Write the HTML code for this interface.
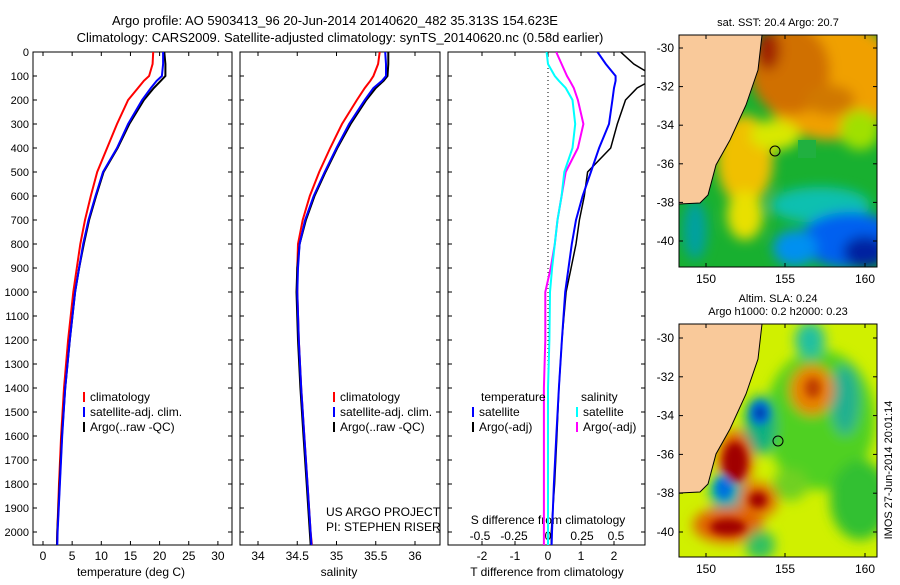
<!DOCTYPE html>
<html><head><meta charset="utf-8"><style>
body{margin:0;background:#fff;width:900px;height:580px;overflow:hidden}
svg{font-family:"Liberation Sans",sans-serif;font-size:12px}
</style></head><body>
<svg id="c" width="900" height="580" xmlns="http://www.w3.org/2000/svg">
<defs>
<filter id="bl" x="-50%" y="-50%" width="200%" height="200%"><feGaussianBlur stdDeviation="6"/></filter>
<filter id="bl2" x="-50%" y="-50%" width="200%" height="200%"><feGaussianBlur stdDeviation="4"/></filter>
<clipPath id="cp1"><rect x="33" y="52" width="199" height="493"/></clipPath>
<clipPath id="cp2"><rect x="240" y="52" width="200" height="493"/></clipPath>
<clipPath id="cp3"><rect x="448" y="52" width="197" height="493"/></clipPath>
<clipPath id="cm1"><rect x="679" y="35" width="198" height="232"/></clipPath>
<clipPath id="cm2"><rect x="679" y="324" width="198" height="233"/></clipPath>
</defs>
<text x="335" y="25" text-anchor="middle" font-size="13">Argo profile: AO 5903413_96 20-Jun-2014 20140620_482 35.313S 154.623E</text>
<text x="340" y="42" text-anchor="middle" font-size="13">Climatology: CARS2009. Satellite-adjusted climatology: synTS_20140620.nc (0.58d earlier)</text>

<g clip-path="url(#cm1)">
<rect x="679" y="35" width="198" height="232" fill="#18b030"/>
<g filter="url(#bl)">
<ellipse cx="830" cy="80" rx="70" ry="60" fill="#f0a000"/>
<ellipse cx="790" cy="70" rx="40" ry="45" fill="#d07000"/>
<ellipse cx="768" cy="50" rx="12" ry="20" fill="#a02000"/>
<ellipse cx="830" cy="100" rx="25" ry="15" fill="#d07800"/>
<ellipse cx="745" cy="160" rx="28" ry="45" fill="#f0c000"/>
<ellipse cx="775" cy="135" rx="25" ry="15" fill="#d8e800"/>
<ellipse cx="860" cy="130" rx="20" ry="20" fill="#a0e000"/>
<ellipse cx="745" cy="215" rx="18" ry="25" fill="#e8e000"/>
<ellipse cx="820" cy="205" rx="50" ry="18" fill="#10c0b0"/>
<ellipse cx="850" cy="240" rx="50" ry="28" fill="#0060f0"/>
<ellipse cx="865" cy="252" rx="22" ry="16" fill="#0020a0"/>
<ellipse cx="795" cy="248" rx="22" ry="18" fill="#0090f0"/>
<ellipse cx="695" cy="230" rx="12" ry="30" fill="#00a0a0"/>
</g>
<rect x="798" y="140" width="18" height="18" fill="#20b040"/>
<polygon points="679,35 762,35 758,70 746,105 730,140 716,165 708,195 700,203 679,204" fill="#f9c99a" stroke="#000" stroke-width="1"/>
<circle cx="775" cy="151" r="5" fill="none" stroke="#000"/>
</g>
<rect x="679" y="35" width="198" height="232" fill="none" stroke="#000"/>
<text x="778" y="26" text-anchor="middle" font-size="11">sat. SST: 20.4  Argo: 20.7</text>

<g clip-path="url(#cm2)">
<rect x="679" y="324" width="198" height="233" fill="#d0f000"/>
<g filter="url(#bl)">
<ellipse cx="820" cy="420" rx="55" ry="70" fill="#50d020"/>
<ellipse cx="860" cy="500" rx="30" ry="40" fill="#30c030"/>
<ellipse cx="810" cy="340" rx="15" ry="18" fill="#20c0a0"/>
<ellipse cx="845" cy="400" rx="14" ry="35" fill="#20b090"/>
<ellipse cx="760" cy="425" rx="16" ry="30" fill="#10b080"/>
<ellipse cx="812" cy="390" rx="22" ry="25" fill="#e88000"/>
<ellipse cx="790" cy="485" rx="18" ry="16" fill="#70d020"/>
<ellipse cx="735" cy="460" rx="18" ry="30" fill="#e06000"/>
<ellipse cx="726" cy="492" rx="16" ry="20" fill="#00b0b0"/>
<ellipse cx="758" cy="500" rx="20" ry="18" fill="#e07000"/>
<ellipse cx="728" cy="525" rx="35" ry="18" fill="#e06000"/>
<ellipse cx="760" cy="545" rx="15" ry="15" fill="#30c060"/>
</g>
<g filter="url(#bl2)">
<ellipse cx="735" cy="462" rx="12" ry="20" fill="#a00000"/>
<ellipse cx="760" cy="413" rx="10" ry="12" fill="#0070e0"/>
<ellipse cx="760" cy="413" rx="5" ry="6" fill="#0030a0"/>
<ellipse cx="724" cy="488" rx="8" ry="11" fill="#0070e0"/>
<ellipse cx="758" cy="500" rx="9" ry="8" fill="#a00000"/>
<ellipse cx="728" cy="527" rx="18" ry="8" fill="#a00000"/>
<ellipse cx="813" cy="388" rx="8" ry="10" fill="#c04000"/>
</g>
<polygon points="679,324 762,324 758,359 746,394 730,429 716,454 708,484 700,492 679,493" fill="#f9c99a" stroke="#000" stroke-width="1"/>
<circle cx="778" cy="441" r="5" fill="none" stroke="#000"/>
</g>
<rect x="679" y="324" width="198" height="233" fill="none" stroke="#000"/>
<text x="778" y="302" text-anchor="middle" font-size="11">Altim. SLA: 0.24</text>
<text x="778" y="315" text-anchor="middle" font-size="11">Argo h1000: 0.2 h2000: 0.23</text>
<text transform="translate(892,470) rotate(-90)" text-anchor="middle" font-size="11">IMOS 27-Jun-2014 20:01:14</text>
<g id="g"></g>
</svg>
<script>
const depthTicks=[0,100,200,300,400,500,600,700,800,900,1000,1100,1200,1300,1400,1500,1600,1700,1800,1900,2000];
const depths=[0,50,100,120,150,200,300,400,500,600,700,800,900,1000,1200,1400,1600,1800,2000,2100];
const tClim=[18.9,18.8,18.2,17.3,16.3,14.6,12.7,11.0,9.3,8.2,7.2,6.4,5.8,5.2,4.3,3.6,3.1,2.75,2.45,2.35];
const tSat=[20.6,20.6,20.4,19.5,18.5,17.0,14.6,12.7,10.3,9.0,7.8,6.9,6.2,5.5,4.6,3.8,3.3,2.9,2.5,2.4];
const tArgo=[20.8,21.0,21.0,20.2,19.0,17.3,14.8,12.8,10.4,9.1,7.9,7.0,6.2,5.5,4.6,3.8,3.25,2.85,2.45,2.35];
const sClim=[35.55,35.53,35.47,35.43,35.36,35.26,35.07,34.92,34.78,34.66,34.57,34.51,34.5,34.5,34.52,34.55,34.59,34.63,34.67,34.7];
const sSat=[35.62,35.63,35.63,35.58,35.47,35.36,35.16,35.0,34.85,34.71,34.6,34.53,34.51,34.5,34.52,34.55,34.59,34.63,34.67,34.69];
const sArgo=[35.66,35.66,35.65,35.6,35.5,35.38,35.18,35.01,34.86,34.72,34.61,34.53,34.5,34.49,34.51,34.54,34.58,34.62,34.66,34.68];
const dtSat=[1.5,1.75,2.05,2.05,2.0,1.95,1.85,1.55,1.3,1.05,0.85,0.72,0.62,0.52,0.42,0.33,0.25,0.18,0.12,0.1];
const dtArgo=[2.2,2.6,3.2,3.1,2.7,2.35,2.1,1.9,1.2,1.1,0.95,0.85,0.7,0.55,0.42,0.33,0.27,0.2,0.1,0.1];
const dsSat=[-0.01,0.0,0.05,0.08,0.13,0.18,0.2,0.18,0.12,0.1,0.07,0.05,0.03,0.015,0.01,0.0,0.0,0.0,0.0,0.0];
const dsArgo=[0.06,0.1,0.14,0.16,0.19,0.22,0.26,0.22,0.13,0.1,0.07,0.05,0.02,-0.02,-0.02,-0.03,-0.03,-0.03,-0.03,-0.03];
const tTicks=[0,5,10,15,20,25,30];
const sTicks=[34,34.5,35,35.5,36];
const dtTicks=[-2,-1,0,1,2];
const dsTicks=[-0.5,-0.25,0,0.25,0.5];
const dsTickLabels=["-0.5","-0.25","0","0.25","0.5"];

const NS="http://www.w3.org/2000/svg";
const G=document.getElementById('g');
function mk(tag,attrs,parent){const e=document.createElementNS(NS,tag);for(const k in attrs)e.setAttribute(k,attrs[k]);(parent||G).appendChild(e);return e;}
const TOP=52,BOT=545;
const yD=d=>TOP+0.24*d;
const xT=t=>43+5.83*t;
const xS=s=>258+78.5*(s-34);
const xDT=v=>548+33*v;
const xDS=v=>548+136*v;

function panel(x,w,name){const r=mk('rect',{x:x,y:TOP,width:w,height:BOT-TOP,fill:'none',stroke:'#000'});

}
panel(33,199,'temperature-panel');panel(240,200,'salinity-panel');panel(448,197,'difference-panel');

depthTicks.forEach(d=>{const t=mk('text',{x:29,y:yD(d)+4,'text-anchor':'end','font-size':'11'});t.textContent=d;


[33,240,448].forEach(x=>{mk('line',{x1:x,x2:x+4,y1:yD(d),y2:yD(d),stroke:'#000'});});
[232,440,645].forEach(x=>{mk('line',{x1:x-4,x2:x,y1:yD(d),y2:yD(d),stroke:'#000'});});
});

function xticks(vals,labels,fx,y,pre){vals.forEach((v,i)=>{const x=fx(v);
mk('line',{x1:x,x2:x,y1:BOT,y2:BOT-4,stroke:'#000'});mk('line',{x1:x,x2:x,y1:TOP,y2:TOP+4,stroke:'#000'});
const t=mk('text',{x:x,y:y,'text-anchor':'middle','font-size':'12'});t.textContent=labels[i];

});}
xticks(tTicks,tTicks,xT,560,'temperature');
xticks(sTicks,sTicks,xS,560,'salinity');
xticks(dtTicks,dtTicks,xDT,560,'t-difference');
dsTicks.forEach((v,i)=>{const t=mk('text',{x:xDS(v),y:540,'text-anchor':'middle','font-size':'12'});t.textContent=dsTickLabels[i];

});

function lbl(x,y,s,name,anchor,size){const t=mk('text',{x:x,y:y,'text-anchor':anchor||'start','font-size':size||'12'});t.textContent=s;

return t;}
lbl(131,576,'temperature (deg C)','temperature-axis-title','middle');
lbl(339,576,'salinity','salinity-axis-title','middle');
lbl(547,576,'T difference from climatology','t-difference-axis-title','middle');
lbl(548,524,'S difference from climatology','s-difference-axis-title','middle');
lbl(326,516,'US ARGO PROJECT','project-label');
lbl(326,531,'PI: STEPHEN RISER','pi-label');

mk('line',{x1:548,x2:548,y1:TOP,y2:BOT,stroke:'#000','stroke-dasharray':'1,3'});

function series(vals,fx,clip,color,w,name){const pts=depths.map((d,i)=>fx(vals[i]).toFixed(1)+','+yD(d).toFixed(1)).join(' ');
const p=mk('polyline',{points:pts,fill:'none',stroke:color,'stroke-width':w,'clip-path':'url(#'+clip+')'});

}
series(tClim,xT,'cp1','#f00',2,'temperature-climatology-line');
series(tArgo,xT,'cp1','#000',2,'temperature-argo-line');
series(tSat,xT,'cp1','#00f',2,'temperature-satellite-line');
series(sClim,xS,'cp2','#f00',2,'salinity-climatology-line');
series(sArgo,xS,'cp2','#000',2,'salinity-argo-line');
series(sSat,xS,'cp2','#00f',2,'salinity-satellite-line');
series(dsArgo,xDS,'cp3','#f0f',2,'s-difference-argo-line');
series(dsSat,xDS,'cp3','#0ff',2,'s-difference-satellite-line');
series(dtArgo,xDT,'cp3','#000',1.5,'t-difference-argo-line');
series(dtSat,xDT,'cp3','#00f',2,'t-difference-satellite-line');

function leg(x,y,color,s,name){mk('line',{x1:x,x2:x,y1:y-9,y2:y+1,stroke:color,'stroke-width':2});lbl(x+6,y,s,name);}
[84,334].forEach(x=>{
leg(x,401,'#f00','climatology','legend-climatology');
leg(x,416,'#00f','satellite-adj. clim.','legend-satellite-adj');
leg(x,431,'#000','Argo(..raw -QC)','legend-argo');});
lbl(481,401,'temperature','legend-temperature-heading');
lbl(581,401,'salinity','legend-salinity-heading');
leg(473,416,'#00f','satellite','legend-t-satellite');
leg(473,431,'#000','Argo(-adj)','legend-t-argo');
leg(577,416,'#0ff','satellite','legend-s-satellite');
leg(577,431,'#f0f','Argo(-adj)','legend-s-argo');

function mapAxes(top,bot,lat30,lat40,pre){
[[150,706],[155,785],[160,865]].forEach(([v,x])=>{mk('line',{x1:x,x2:x,y1:bot,y2:bot-4,stroke:'#000'});mk('line',{x1:x,x2:x,y1:top,y2:top+4,stroke:'#000'});
lbl(x,bot+16,String(v),pre+'-lon-label','middle');});
[-30,-32,-34,-36,-38,-40].forEach(v=>{const y=lat30+(lat40-lat30)*(-30-v)/10;
mk('line',{x1:679,x2:683,y1:y,y2:y,stroke:'#000'});mk('line',{x1:873,x2:877,y1:y,y2:y,stroke:'#000'});
lbl(674,y+4,String(v),pre+'-lat-label','end');});}
mapAxes(35,267,48,241,'sst-map');
mapAxes(324,557,338,532,'sla-map');
</script>
</body></html>
